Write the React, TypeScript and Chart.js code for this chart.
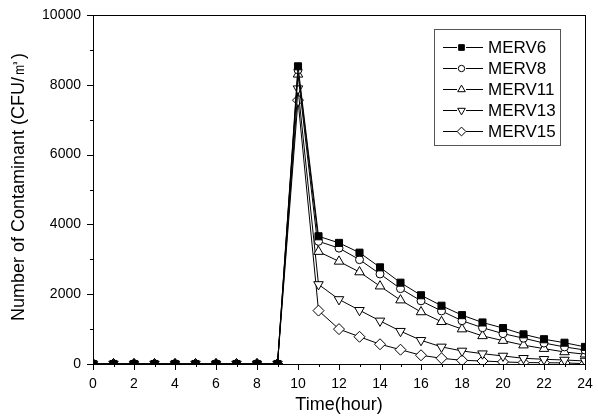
import React, { useEffect, useRef } from "react";
import { Chart, registerables } from "chart.js";

Chart.register(...registerables);

const hours = [0,1,2,3,4,5,6,7,8,9,10,11,12,13,14,15,16,17,18,19,20,21,22,23,24];
const merv6 = [0,0,0,0,0,0,0,0,0,0,8530,3660,3470,3190,2770,2330,1970,1670,1400,1190,1030,850,710,610,490];
const merv8 = [0,0,0,0,0,0,0,0,0,0,8430,3515,3320,2990,2580,2160,1810,1520,1240,1040,870,740,600,490,400];
const merv11 = [0,0,0,0,0,0,0,0,0,0,8300,3220,2940,2635,2230,1830,1490,1210,1000,805,670,540,440,345,280];
const merv13 = [0,0,0,0,0,0,0,0,0,0,7890,2280,1850,1540,1236,940,680,490,374,296,230,164,135,115,86];
const merv15 = [0,0,0,0,0,0,0,0,0,0,7560,1530,1000,780,566,410,250,164,106,86,60,40,37,30,10];

const seriesNames = ["MERV6", "MERV8", "MERV11", "MERV13", "MERV15"];
const xTitle = "Time(hour)";
const yTitle = "Number of Contaminant (CFU/㎥)";

const FONT = "Arial, 'Liberation Sans', sans-serif";

type Style = { pointStyle: any; radius: number; rotation: number; fill: string };
const styles: Style[] = [
  { pointStyle: "rect", radius: 5, rotation: 0, fill: "#000" },
  { pointStyle: "circle", radius: 4, rotation: 0, fill: "#fff" },
  { pointStyle: "triangle", radius: 5.5, rotation: 0, fill: "#fff" },
  { pointStyle: "triangle", radius: 5.5, rotation: 180, fill: "#fff" },
  { pointStyle: "rectRot", radius: 5.5, rotation: 0, fill: "#fff" },
];

function drawMarker(ctx: CanvasRenderingContext2D, s: Style, x: number, y: number, scale: number) {
  const r = s.radius * scale;
  ctx.beginPath();
  if (s.pointStyle === "rect") {
    const h = r * Math.SQRT1_2;
    ctx.rect(x - h, y - h, 2 * h, 2 * h);
  } else if (s.pointStyle === "circle") {
    ctx.arc(x, y, r, 0, Math.PI * 2);
  } else if (s.pointStyle === "triangle") {
    const dir = s.rotation === 180 ? -1 : 1;
    ctx.moveTo(x, y - dir * r);
    ctx.lineTo(x + r * 0.866, y + dir * r * 0.5);
    ctx.lineTo(x - r * 0.866, y + dir * r * 0.5);
    ctx.closePath();
  } else {
    ctx.moveTo(x, y - r);
    ctx.lineTo(x + r, y);
    ctx.lineTo(x, y + r);
    ctx.lineTo(x - r, y);
    ctx.closePath();
  }
  ctx.fill();
  ctx.stroke();
}

const decorPlugin = {
  id: "decor",
  afterDraw(chart: any) {
    const ctx = chart.ctx as CanvasRenderingContext2D;
    const { left, right, top, bottom } = chart.chartArea;
    const xs = chart.scales.x;
    const ys = chart.scales.y;
    ctx.save();
    ctx.strokeStyle = "#000";
    ctx.lineWidth = 1;
    ctx.strokeRect(Math.round(left) + 0.5, Math.round(top) + 0.5, Math.round(right - left), Math.round(bottom - top));
    ctx.beginPath();
    for (let h = 0; h <= 24; h++) {
      const px = Math.round(xs.getPixelForValue(h)) + 0.5;
      const len = h % 2 === 0 ? 6 : 3;
      ctx.moveTo(px, Math.round(bottom));
      ctx.lineTo(px, Math.round(bottom) + len);
    }
    for (let v = 0; v <= 10000; v += 1000) {
      const py = Math.round(ys.getPixelForValue(v)) + 0.5;
      const len = v % 2000 === 0 ? 6 : 3;
      ctx.moveTo(Math.round(left), py);
      ctx.lineTo(Math.round(left) - len, py);
    }
    ctx.stroke();

    // titles
    ctx.fillStyle = "#000";
    ctx.font = `18px ${FONT}`;
    ctx.textAlign = "center";
    ctx.textBaseline = "middle";
    ctx.fillText(xTitle, (left + right) / 2, 405);
    ctx.save();
    ctx.translate(19, 187);
    ctx.rotate(-Math.PI / 2);
    ctx.fillText(yTitle, 0, 0);
    ctx.restore();

    // legend
    const bx = 434.5, by = 29.5, bw = 126, bh = 116;
    ctx.strokeStyle = "#555";
    ctx.strokeRect(bx, by, bw, bh);
    ctx.strokeStyle = "#000";
    ctx.font = `17px ${FONT}`;
    ctx.textAlign = "left";
    for (let i = 0; i < seriesNames.length; i++) {
      const y = 47 + i * 21;
      ctx.beginPath();
      ctx.moveTo(443, y + 0.5);
      ctx.lineTo(457, y + 0.5);
      ctx.moveTo(466, y + 0.5);
      ctx.lineTo(483, y + 0.5);
      ctx.stroke();
      const s = styles[i];
      ctx.fillStyle = s.fill;
      ctx.lineWidth = 1;
      drawMarker(ctx, s, 461.5, y + 0.5, 0.8);
      ctx.fillStyle = "#000";
      ctx.fillText(seriesNames[i], 488, y + 1);
    }
    ctx.restore();
  },
};

export default function App() {
  const ref = useRef<HTMLCanvasElement | null>(null);
  useEffect(() => {
    if (!ref.current) return;
    const all = [merv6, merv8, merv11, merv13, merv15];
    const chart = new Chart(ref.current, {
      type: "line",
      data: {
        datasets: all.map((vals, i) => ({
          label: seriesNames[i],
          data: hours.map((h, k) => ({ x: h, y: vals[k] })),
          borderColor: "#000",
          borderWidth: 1,
          backgroundColor: styles[i].fill,
          pointBackgroundColor: styles[i].fill,
          pointBorderColor: "#000",
          pointBorderWidth: 1,
          pointStyle: styles[i].pointStyle,
          pointRadius: styles[i].radius,
          pointRotation: styles[i].rotation,
          tension: 0,
          fill: false,
        })),
      },
      plugins: [decorPlugin],
      options: {
        animation: false,
        responsive: false,
        layout: { padding: { top: 15, right: 13, left: 0, bottom: 0 } },
        plugins: { legend: { display: false }, tooltip: { enabled: false } },
        scales: {
          x: {
            type: "linear",
            min: 0,
            max: 24,
            grid: { display: false, drawTicks: false },
            border: { display: false },
            ticks: { stepSize: 2, color: "#000", font: { family: FONT, size: 14 }, padding: 12, maxRotation: 0, autoSkip: false, callback: (v: any) => String(v) },
            afterFit: (s: any) => { s.height = 54; s.paddingLeft = 0; s.paddingRight = 0; },
          },
          y: {
            type: "linear",
            min: 0,
            max: 10000,
            grid: { display: false, drawTicks: false },
            border: { display: false },
            ticks: { stepSize: 2000, color: "#000", font: { family: FONT, size: 14 }, padding: 12, callback: (v: any) => String(v) },
            afterFit: (s: any) => { s.width = 93; s.paddingTop = 0; s.paddingBottom = 0; },
          },
        },
      },
    });
    return () => chart.destroy();
  }, []);
  return (
    <div style={{ position: "fixed", left: 0, top: 0, width: 598, height: 418, background: "#fff" }}>
      <canvas ref={ref} width={598} height={418} style={{ width: 598, height: 418, display: "block" }} />
    </div>
  );
}
